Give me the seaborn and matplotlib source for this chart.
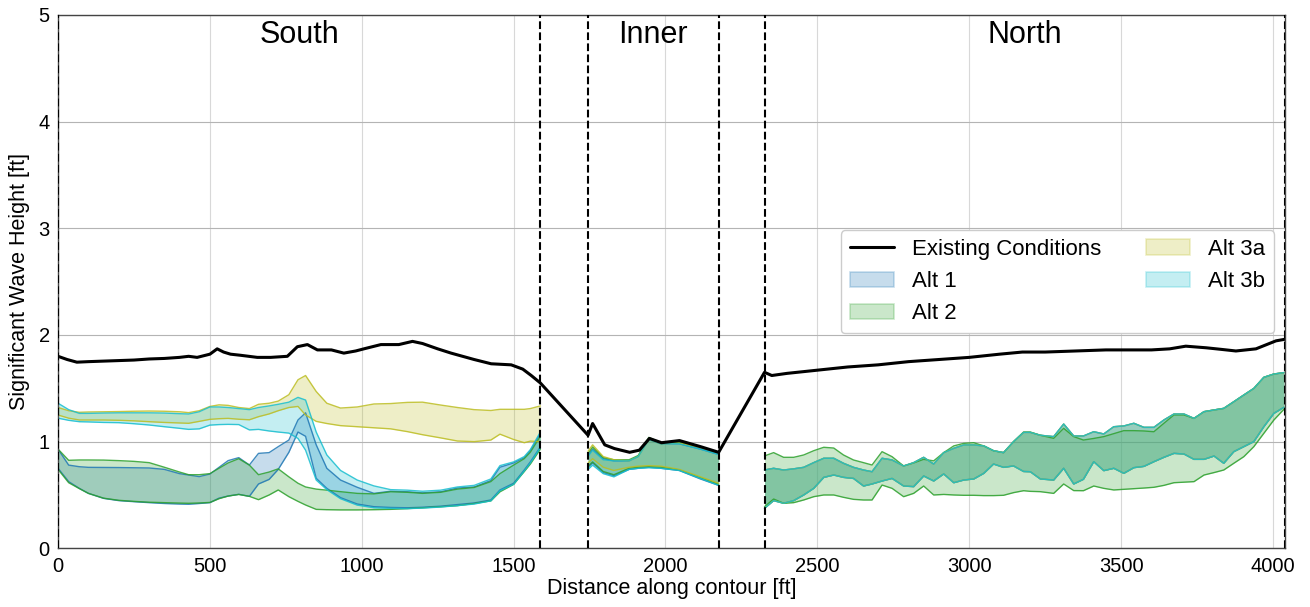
import numpy as np
import pandas as pd
import matplotlib
matplotlib.use("Agg")
import matplotlib.pyplot as plt
from matplotlib.lines import Line2D
from matplotlib.patches import Patch
import seaborn as sns

# ---------------------------------------------------------------------------
# Existing conditions along the contour (distance [ft], Hs [ft])
existing_dist = [0, 30, 62, 100, 150, 200, 250, 300, 350, 400, 430, 458, 500, 524,
                 545, 568, 600, 656, 700, 755, 788, 821, 854, 900, 941, 980, 1007,
                 1063, 1122, 1167, 1200, 1250, 1294, 1370, 1426, 1492, 1530, 1558,
                 1588, 1745, 1760, 1800, 1832, 1882, 1914, 1947, 1987, 2046, 2119,
                 2175, 2326, 2350, 2400, 2500, 2600, 2700, 2800, 2900, 3000, 3100,
                 3175, 3250, 3350, 3450, 3505, 3600, 3660, 3713, 3780, 3830, 3878,
                 3944, 4010, 4040]
existing_hs = [1.80, 1.77, 1.745, 1.75, 1.755, 1.76, 1.765, 1.775, 1.78, 1.79, 1.80,
               1.79, 1.82, 1.87, 1.84, 1.82, 1.81, 1.79, 1.79, 1.80, 1.89, 1.91,
               1.86, 1.86, 1.83, 1.85, 1.87, 1.91, 1.91, 1.94, 1.92, 1.87, 1.83,
               1.77, 1.73, 1.72, 1.68, 1.62, 1.55, 1.06, 1.17, 0.97, 0.935, 0.90,
               0.92, 1.03, 0.99, 1.01, 0.95, 0.90, 1.65, 1.62, 1.64, 1.67, 1.70,
               1.72, 1.75, 1.77, 1.79, 1.82, 1.84, 1.84, 1.85, 1.86, 1.86, 1.86,
               1.87, 1.895, 1.88, 1.865, 1.85, 1.87, 1.945, 1.96]

# ---------------------------------------------------------------------------
# South reach
south_dist = [0, 35, 70, 100, 150, 200, 250, 300, 350, 400, 430, 465, 500, 530, 560,
              595, 630, 660, 695, 725, 760, 790, 815, 850, 885, 930, 985, 1040, 1095,
              1150, 1200, 1260, 1315, 1370, 1425, 1455, 1500, 1535, 1555, 1588]

south_alt1_lo = [0.75, 0.625, 0.562, 0.515, 0.468, 0.447, 0.437, 0.428, 0.42, 0.415,
                 0.413, 0.42, 0.428, 0.47, 0.49, 0.506, 0.487, 0.603, 0.646, 0.74,
                 0.90, 1.09, 1.05, 0.656, 0.562, 0.475, 0.415, 0.39, 0.383, 0.38,
                 0.385, 0.395, 0.41, 0.425, 0.453, 0.547, 0.61, 0.734, 0.81, 0.95]
south_alt1_hi = [0.93, 0.78, 0.765, 0.759, 0.758, 0.757, 0.755, 0.753, 0.74, 0.70,
                 0.687, 0.672, 0.696, 0.759, 0.822, 0.85, 0.781, 0.89, 0.897, 0.953,
                 1.015, 1.203, 1.27, 0.97, 0.75, 0.64, 0.572, 0.515, 0.535, 0.53,
                 0.52, 0.53, 0.565, 0.575, 0.635, 0.76, 0.80, 0.85, 0.915, 1.075]

south_alt2_lo = [0.74, 0.615, 0.56, 0.515, 0.47, 0.45, 0.44, 0.432, 0.428, 0.424,
                 0.422, 0.425, 0.43, 0.465, 0.49, 0.505, 0.487, 0.456, 0.50, 0.547,
                 0.484, 0.44, 0.406, 0.365, 0.362, 0.36, 0.36, 0.362, 0.365, 0.372,
                 0.38, 0.39, 0.40, 0.42, 0.445, 0.53, 0.60, 0.72, 0.79, 0.93]
south_alt2_hi = [0.93, 0.825, 0.828, 0.828, 0.827, 0.822, 0.815, 0.803, 0.76, 0.715,
                 0.69, 0.69, 0.70, 0.75, 0.80, 0.84, 0.78, 0.69, 0.715, 0.745, 0.67,
                 0.61, 0.575, 0.555, 0.545, 0.531, 0.515, 0.51, 0.53, 0.525, 0.515,
                 0.525, 0.555, 0.57, 0.625, 0.70, 0.78, 0.84, 0.90, 1.05]

south_alt3a_lo = [1.25, 1.22, 1.203, 1.203, 1.203, 1.20, 1.195, 1.187, 1.18, 1.175,
                  1.172, 1.19, 1.209, 1.215, 1.218, 1.21, 1.205, 1.234, 1.26, 1.29,
                  1.32, 1.33, 1.25, 1.19, 1.17, 1.15, 1.14, 1.13, 1.12, 1.094, 1.065,
                  1.035, 1.006, 1.0, 1.015, 1.07, 1.02, 0.99, 1.005, 1.0]
south_alt3a_hi = [1.32, 1.29, 1.275, 1.278, 1.28, 1.282, 1.285, 1.287, 1.285, 1.28,
                  1.272, 1.29, 1.33, 1.345, 1.34, 1.32, 1.31, 1.35, 1.36, 1.38, 1.44,
                  1.58, 1.62, 1.47, 1.36, 1.315, 1.325, 1.353, 1.357, 1.368, 1.37,
                  1.343, 1.32, 1.30, 1.292, 1.303, 1.303, 1.303, 1.31, 1.335]

south_alt3b_lo = [1.22, 1.20, 1.187, 1.185, 1.18, 1.178, 1.168, 1.156, 1.14, 1.125,
                  1.115, 1.12, 1.155, 1.16, 1.162, 1.16, 1.11, 1.115, 1.10, 1.09,
                  1.08, 1.03, 0.92, 0.64, 0.55, 0.465, 0.405, 0.38, 0.375, 0.372,
                  0.377, 0.387, 0.40, 0.415, 0.445, 0.54, 0.60, 0.725, 0.80, 0.945]
south_alt3b_hi = [1.36, 1.30, 1.265, 1.265, 1.268, 1.27, 1.27, 1.27, 1.268, 1.262,
                  1.259, 1.28, 1.325, 1.325, 1.32, 1.31, 1.30, 1.32, 1.335, 1.35,
                  1.37, 1.415, 1.39, 1.09, 0.875, 0.73, 0.64, 0.585, 0.55, 0.545,
                  0.535, 0.545, 0.575, 0.59, 0.65, 0.775, 0.81, 0.86, 0.925, 1.09]

# ---------------------------------------------------------------------------
# Inner reach
inner_dist = [1745, 1760, 1795, 1830, 1880, 1910, 1945, 1985, 2045, 2115, 2175]

inner_alt1_lo = [0.76, 0.80, 0.71, 0.68, 0.74, 0.75, 0.76, 0.75, 0.73, 0.65, 0.59]
inner_alt1_hi = [0.87, 0.93, 0.84, 0.82, 0.82, 0.86, 1.02, 0.98, 0.98, 0.93, 0.88]
inner_alt2_lo = [0.77, 0.81, 0.72, 0.69, 0.75, 0.76, 0.765, 0.76, 0.735, 0.66, 0.60]
inner_alt2_hi = [0.89, 0.95, 0.85, 0.83, 0.83, 0.87, 1.04, 0.99, 0.995, 0.945, 0.89]
inner_alt3a_lo = [0.80, 0.84, 0.76, 0.73, 0.76, 0.77, 0.775, 0.77, 0.74, 0.67, 0.61]
inner_alt3a_hi = [0.91, 0.97, 0.86, 0.83, 0.82, 0.86, 1.02, 0.98, 0.985, 0.95, 0.90]
inner_alt3b_lo = [0.74, 0.78, 0.70, 0.67, 0.74, 0.75, 0.755, 0.75, 0.73, 0.655, 0.59]
inner_alt3b_hi = [0.86, 0.92, 0.83, 0.82, 0.82, 0.86, 1.02, 0.98, 0.98, 0.93, 0.88]

# ---------------------------------------------------------------------------
# North reach (Alt 1, Alt 3a and Alt 3b give the same envelope here)
north_dist = [2326, 2356, 2389, 2422, 2455, 2488, 2521, 2554, 2586, 2619, 2652, 2680,
              2713, 2746, 2784, 2817, 2850, 2883, 2916, 2949, 2982, 3015, 3048, 3080,
              3113, 3146, 3179, 3201, 3234, 3278, 3311, 3344, 3376, 3410, 3443, 3476,
              3509, 3542, 3575, 3608, 3641, 3674, 3707, 3740, 3773, 3806, 3838, 3871,
              3904, 3937, 3970, 4003, 4036]

north_alt2_lo = [0.39, 0.462, 0.422, 0.428, 0.453, 0.484, 0.50, 0.50, 0.478, 0.459,
                 0.453, 0.453, 0.593, 0.562, 0.484, 0.515, 0.584, 0.50, 0.505, 0.50,
                 0.497, 0.497, 0.494, 0.494, 0.497, 0.522, 0.54, 0.534, 0.531, 0.515,
                 0.603, 0.541, 0.54, 0.584, 0.562, 0.547, 0.553, 0.559, 0.565, 0.572,
                 0.59, 0.615, 0.62, 0.625, 0.687, 0.71, 0.734, 0.797, 0.859, 0.953,
                 1.078, 1.203, 1.303]
north_alt2_hi = [0.866, 0.897, 0.853, 0.853, 0.875, 0.915, 0.947, 0.94, 0.875, 0.828,
                 0.803, 0.781, 0.906, 0.859, 0.772, 0.80, 0.834, 0.82, 0.897, 0.96,
                 0.984, 0.99, 0.96, 0.915, 0.897, 1.0, 1.09, 1.09, 1.06, 1.031, 1.125,
                 1.047, 1.015, 1.03, 1.047, 1.075, 1.103, 1.103, 1.10, 1.093, 1.172,
                 1.25, 1.25, 1.218, 1.281, 1.297, 1.312, 1.374, 1.437, 1.499, 1.603,
                 1.634, 1.647]

north_shared_lo = [0.375, 0.447, 0.422, 0.447, 0.50, 0.562, 0.665, 0.687, 0.665,
                   0.655, 0.584, 0.603, 0.631, 0.655, 0.584, 0.578, 0.678, 0.631,
                   0.697, 0.615, 0.64, 0.65, 0.703, 0.79, 0.759, 0.772, 0.72, 0.718,
                   0.65, 0.64, 0.75, 0.603, 0.647, 0.812, 0.728, 0.75, 0.703, 0.756,
                   0.768, 0.812, 0.853, 0.89, 0.884, 0.834, 0.834, 0.865, 0.797,
                   0.906, 0.953, 1.0, 1.14, 1.265, 1.322]
north_shared_hi = [0.734, 0.75, 0.734, 0.745, 0.759, 0.803, 0.844, 0.844, 0.797,
                   0.759, 0.734, 0.718, 0.844, 0.828, 0.772, 0.803, 0.853, 0.79,
                   0.897, 0.937, 0.969, 0.969, 0.96, 0.915, 0.897, 1.0, 1.087, 1.087,
                   1.06, 1.047, 1.165, 1.053, 1.053, 1.093, 1.072, 1.14, 1.147, 1.172,
                   1.134, 1.134, 1.203, 1.259, 1.259, 1.218, 1.281, 1.297, 1.312,
                   1.374, 1.437, 1.499, 1.603, 1.634, 1.647]

# Reach boundaries and names
boundaries = [0, 1588, 1745, 2175, 2326, 4040]
reach_names = ["South", "Inner", "North"]
reach_limits = [(0, 1588), (1745, 2175), (2326, 4040)]

alt_names = ["Alt 1", "Alt 2", "Alt 3a", "Alt 3b"]
alt_colors = ["#1f77b4", "#2ca02c", "#bcbd22", "#17becf"]

# Envelope table: one row per (alternative, reach)
envelopes = {
    "Alt 1": [(south_dist, south_alt1_lo, south_alt1_hi),
              (inner_dist, inner_alt1_lo, inner_alt1_hi),
              (north_dist, north_shared_lo, north_shared_hi)],
    "Alt 2": [(south_dist, south_alt2_lo, south_alt2_hi),
              (inner_dist, inner_alt2_lo, inner_alt2_hi),
              (north_dist, north_alt2_lo, north_alt2_hi)],
    "Alt 3a": [(south_dist, south_alt3a_lo, south_alt3a_hi),
               (inner_dist, inner_alt3a_lo, inner_alt3a_hi),
               (north_dist, north_shared_lo, north_shared_hi)],
    "Alt 3b": [(south_dist, south_alt3b_lo, south_alt3b_hi),
               (inner_dist, inner_alt3b_lo, inner_alt3b_hi),
               (north_dist, north_shared_lo, north_shared_hi)],
}

# ---------------------------------------------------------------------------
sns.set_style("whitegrid")
plt.rcParams["font.family"] = ["Liberation Sans", "DejaVu Sans"]
plt.rcParams.update({"text.color": "black", "axes.labelcolor": "black",
                     "xtick.color": "black", "ytick.color": "black"})

fig, ax = plt.subplots(figsize=(13.1, 6.07), dpi=100)
fig.subplots_adjust(left=0.0443, right=0.981, top=0.9753, bottom=0.0967)

for name, color in zip(alt_names, alt_colors):
    for dist, lo, hi in envelopes[name]:
        ax.fill_between(dist, lo, hi, color=color, alpha=0.25, linewidth=0)
        edges = pd.DataFrame({"dist": dist + dist,
                              "hs": lo + hi,
                              "edge": ["lo"] * len(dist) + ["hi"] * len(dist)})
        sns.lineplot(data=edges, x="dist", y="hs", units="edge", estimator=None,
                     color=color, linewidth=1.0, alpha=0.85, ax=ax, legend=False)

existing = pd.DataFrame({"dist": existing_dist, "hs": existing_hs})
sns.lineplot(data=existing, x="dist", y="hs", color="black", linewidth=2.2,
             ax=ax, legend=False)

for b in boundaries:
    ax.axvline(b, color="black", linestyle="--", linewidth=1.5, zorder=5)

for name, (x0, x1) in zip(reach_names, reach_limits):
    ax.text((x0 + x1) / 2, 4.81, name, ha="center", va="center", fontsize=22,
            color="black")

ax.set_xlim(0, 4040)
ax.set_ylim(0, 5)
ax.set_xticks([0, 500, 1000, 1500, 2000, 2500, 3000, 3500, 4000])
ax.set_yticks([0, 1, 2, 3, 4, 5])
ax.set_xlabel("Distance along contour [ft]", fontsize=15.5, labelpad=2,
              color="black")
ax.set_ylabel("Significant Wave Height [ft]", fontsize=15.5, labelpad=6,
              color="black")
ax.tick_params(axis="both", labelsize=14.5, direction="out", length=4, width=0.8,
               color="black", labelcolor="black", pad=2)

ax.grid(False)
ax.grid(axis="y", color="#b4b4b4", linewidth=0.8)
ax.grid(axis="x", color="#d8d8d8", linewidth=0.8)
ax.set_axisbelow(True)
for spine in ax.spines.values():
    spine.set_edgecolor("#444444")
    spine.set_linewidth(1.0)

handles = [Line2D([0], [0], color="black", linewidth=2.2)]
for color in alt_colors:
    handles.append(Patch(facecolor=color, edgecolor=color, alpha=0.25, linewidth=1.2))
labels = ["Existing Conditions"] + alt_names
leg = ax.legend(handles, labels, loc="center right", ncol=2, fontsize=16,
                frameon=True, fancybox=True, framealpha=1.0, edgecolor="#cccccc")
for t in leg.get_texts():
    t.set_color("black")

fig.savefig("out.png", dpi=100)
